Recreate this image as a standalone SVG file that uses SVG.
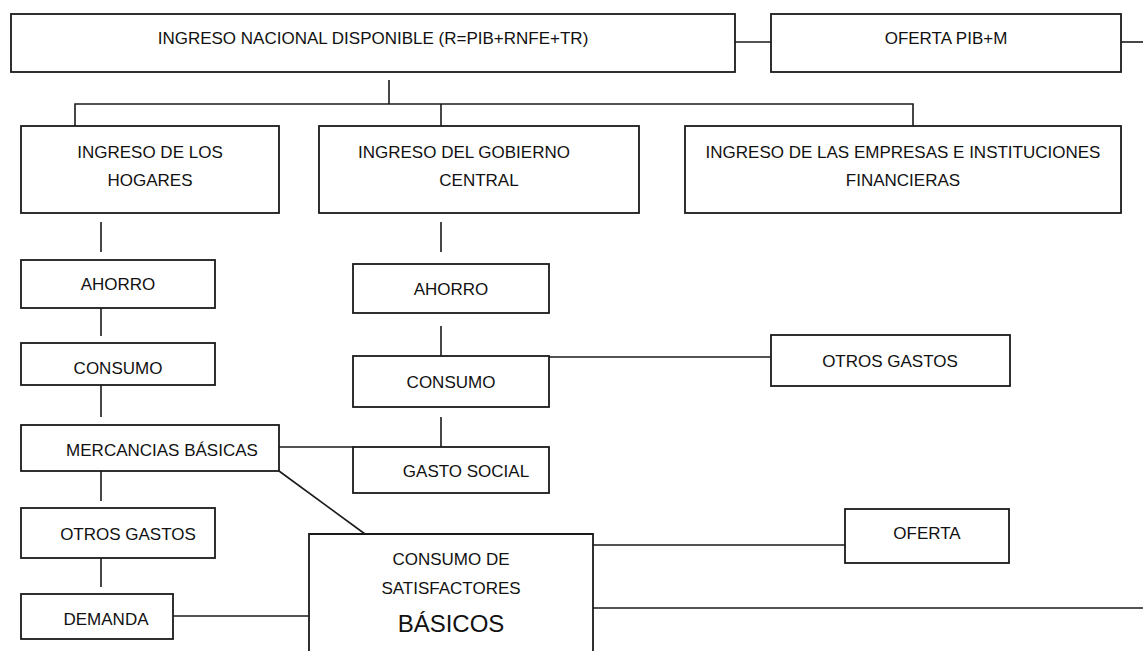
<svg xmlns="http://www.w3.org/2000/svg" width="1143" height="651" viewBox="0 0 1143 651">
<style>
.box{fill:#fff;stroke:#1a1a1a;stroke-width:1.8}
.ln{fill:none;stroke:#1a1a1a;stroke-width:1.6}
text{font-family:"Liberation Sans",Arial,sans-serif;font-size:17px;fill:#111;text-anchor:middle}
.big{font-size:24px}
</style>
<rect width="1143" height="651" fill="#fff"/>
<g id="connectors">
<line class="ln" x1="735" y1="42" x2="771" y2="42"/>
<line class="ln" x1="1121" y1="42" x2="1143" y2="42"/>
<line class="ln" x1="389" y1="80" x2="389" y2="104"/>
<polyline class="ln" points="75,127 75,104 913,104 913,126"/>
<line class="ln" x1="441" y1="104" x2="441" y2="126"/>
<line class="ln" x1="101" y1="222" x2="101" y2="252"/>
<line class="ln" x1="101" y1="308" x2="101" y2="336"/>
<line class="ln" x1="101" y1="385" x2="101" y2="417"/>
<line class="ln" x1="101" y1="471" x2="101" y2="501"/>
<line class="ln" x1="101" y1="558" x2="101" y2="587"/>
<line class="ln" x1="279" y1="447" x2="353" y2="447"/>
<line class="ln" x1="279" y1="471" x2="365" y2="534"/>
<line class="ln" x1="173" y1="616" x2="309" y2="616"/>
<line class="ln" x1="441" y1="222" x2="441" y2="252"/>
<line class="ln" x1="441" y1="326" x2="441" y2="356"/>
<line class="ln" x1="441" y1="417" x2="441" y2="447"/>
<line class="ln" x1="549" y1="357" x2="771" y2="357"/>
<line class="ln" x1="593" y1="545" x2="845" y2="545"/>
<line class="ln" x1="593" y1="608" x2="1143" y2="608"/>
</g>
<g id="ingreso-nacional"><rect class="box" x="11" y="14" width="724" height="58"/><text x="373" y="44">INGRESO NACIONAL DISPONIBLE (R=PIB+RNFE+TR)</text></g>
<g id="oferta-pib"><rect class="box" x="771" y="14" width="350" height="58"/><text x="946" y="44">OFERTA PIB+M</text></g>
<g id="hogares"><rect class="box" x="21" y="126" width="258" height="87"/><text x="150" y="158">INGRESO DE LOS</text><text x="150" y="186">HOGARES</text></g>
<g id="gobierno"><rect class="box" x="319" y="126" width="320" height="87"/><text x="464" y="158">INGRESO DEL GOBIERNO</text><text x="479" y="186">CENTRAL</text></g>
<g id="empresas"><rect class="box" x="685" y="126" width="436" height="87"/><text x="903" y="158">INGRESO DE LAS EMPRESAS E INSTITUCIONES</text><text x="903" y="186">FINANCIERAS</text></g>
<g id="ahorro-h"><rect class="box" x="21" y="260" width="194" height="48"/><text x="118" y="290">AHORRO</text></g>
<g id="consumo-h"><rect class="box" x="21" y="343" width="194" height="42"/><text x="118" y="374">CONSUMO</text></g>
<g id="mercancias"><rect class="box" x="21" y="425" width="258" height="46"/><text x="162" y="456">MERCANCIAS BÁSICAS</text></g>
<g id="otros-gastos-h"><rect class="box" x="21" y="508" width="194" height="50"/><text x="128" y="540">OTROS GASTOS</text></g>
<g id="demanda"><rect class="box" x="21" y="594" width="152" height="45"/><text x="106" y="625">DEMANDA</text></g>
<g id="ahorro-g"><rect class="box" x="353" y="264" width="196" height="49"/><text x="451" y="295">AHORRO</text></g>
<g id="consumo-g"><rect class="box" x="353" y="356" width="196" height="51"/><text x="451" y="388">CONSUMO</text></g>
<g id="gasto-social"><rect class="box" x="353" y="447" width="196" height="46"/><text x="466" y="477">GASTO SOCIAL</text></g>
<g id="otros-gastos-g"><rect class="box" x="771" y="335" width="239" height="51"/><text x="890" y="367">OTROS GASTOS</text></g>
<g id="consumo-satisfactores"><path class="box" d="M309,660 V534 H593 V660"/><text x="451" y="565">CONSUMO DE</text><text x="451" y="594">SATISFACTORES</text><text class="big" x="451" y="632">BÁSICOS</text></g>
<g id="oferta"><rect class="box" x="845" y="509" width="164" height="54"/><text x="927" y="539">OFERTA</text></g>
</svg>
